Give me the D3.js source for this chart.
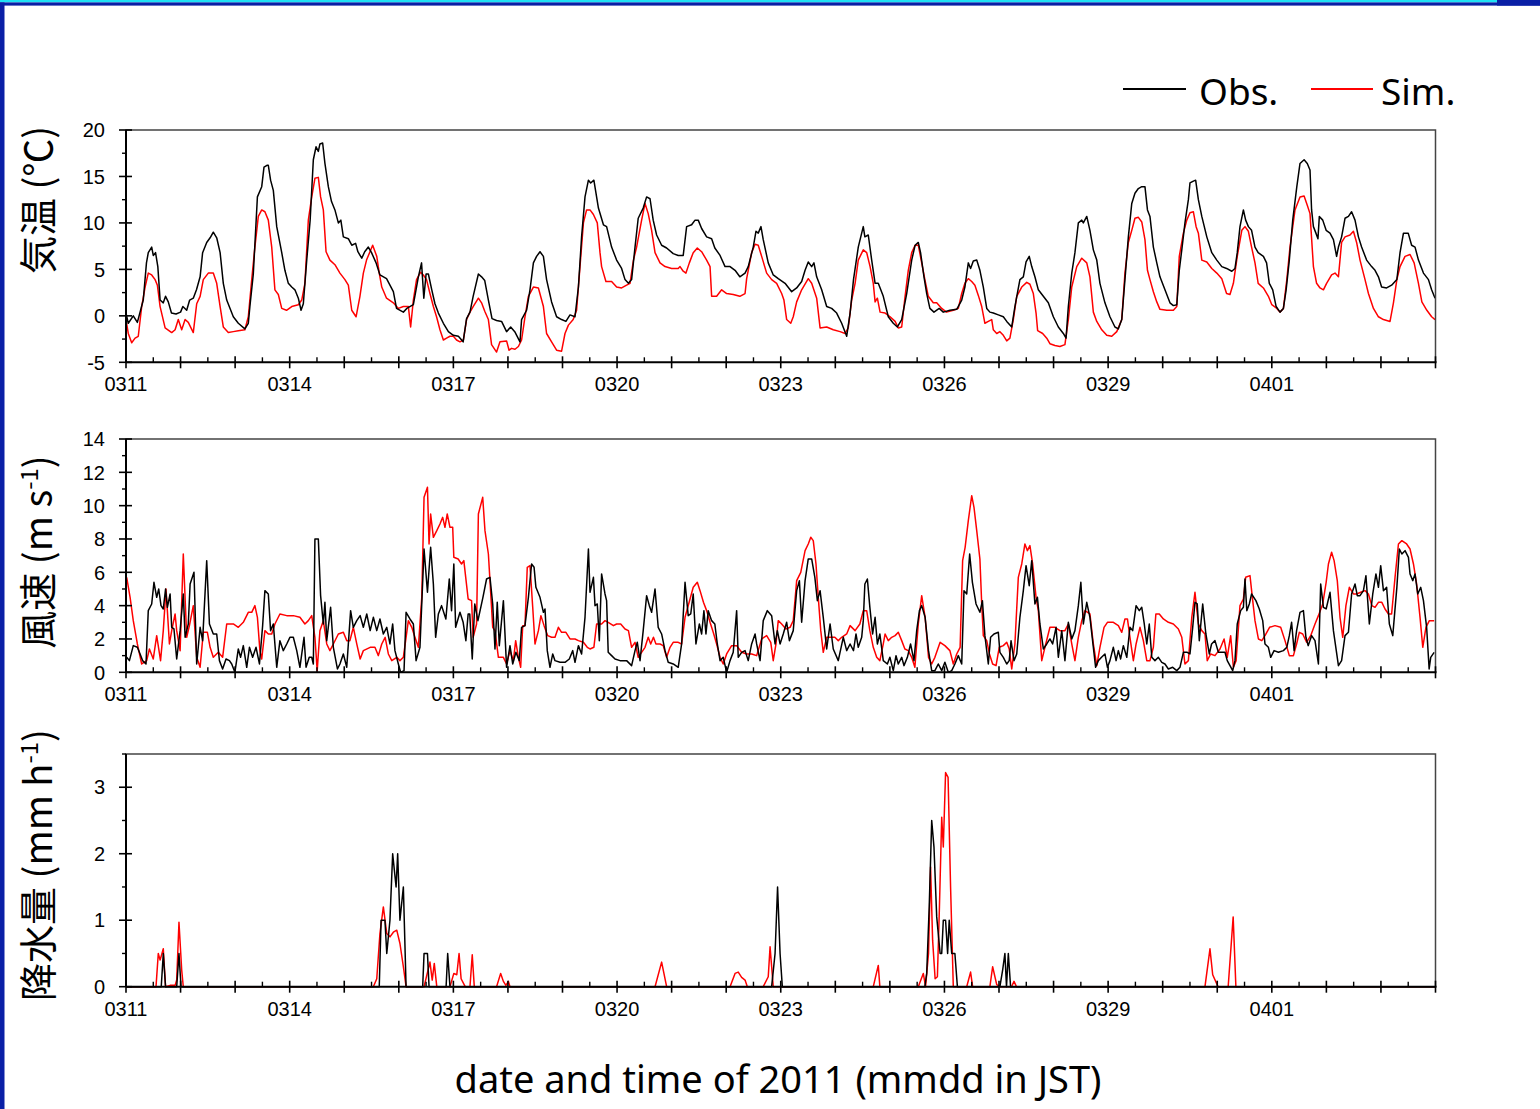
<!DOCTYPE html>
<html>
<head>
<meta charset="utf-8">
<script src="https://cdn.jsdelivr.net/npm/d3@7"></script>
<style>
  html, body { margin: 0; padding: 0; background: #fff; }
  svg { display: block; }
</style>
</head>
<body>
<svg id="chart" width="1540" height="1109"></svg>
<script>
// ---- Data: [hours since 2011-03-11 00:00 JST, value] ----
const tempObs = [[0,0.3],[1,-0.8],[3.2,0],[5,-0.7],[7.6,1.7],[9,5.7],[9.8,6.8],[11.3,7.4],[12,6.5],[13,6.8],[14,5.3],[15,1.7],[16.4,1.4],[17.4,2.1],[18.6,1.5],[20,0.3],[22,0.2],[24,0.4],[25,1],[26.7,0.6],[28,1.7],[29.6,1.9],[31,2.8],[32.6,4.2],[33.7,6.8],[35.5,7.9],[37,8.4],[38.4,9.0],[39.9,8.4],[41.4,6.8],[42.8,3.5],[44.3,1.7],[47.2,-0.1],[49.4,-0.8],[52.3,-1.4],[53.8,-0.8],[54.5,1.0],[56,4.5],[57.8,12.8],[59.7,13.9],[60.7,16],[62,16.2],[62.6,16.2],[63.6,14.6],[64.8,13.5],[66.3,9.6],[68.5,6.8],[69.9,4.9],[71.4,3.5],[72.9,3.1],[74.3,2.8],[75.8,1.9],[77,0.6],[78,1.3],[79.5,6.0],[81,10.3],[82.4,16.8],[83.6,18.2],[84.6,17.7],[85.3,18.5],[86.5,18.6],[87.5,16.4],[89,13.9],[90.4,12.3],[91.9,11.4],[93.4,10],[94.5,10.3],[95.6,8.5],[97.8,8.3],[99.3,7.6],[101,7.8],[102,6.9],[103.7,6.2],[105,6.9],[106.6,7.4],[108,6.8],[110,5.7],[111.7,4.4],[114.6,4.0],[117.6,2.6],[119,0.8],[122,0.4],[123.5,0.8],[126.4,1.2],[128.6,4.2],[130,5.7],[131,1.9],[132,4.5],[133,4.5],[134.5,2.8],[135.9,1.3],[137.4,0.3],[139.6,-0.8],[141.8,-1.7],[144,-2.1],[146.2,-2.2],[148.3,-2.8],[149.8,-0.3],[151.3,0.4],[152.7,2.1],[155,4.5],[156.4,4.2],[157.8,3.8],[159.4,1.7],[161,-0.3],[163,-0.5],[165.2,-0.6],[167.4,-1.7],[169.2,-1.2],[171,-1.7],[173.3,-2.8],[174,-0.4],[176.2,0.6],[177.7,2.8],[179.2,5.7],[180.6,6.4],[182.1,6.9],[183.6,6.4],[185,3.9],[187.2,1.5],[189.4,-0.1],[191.6,-0.4],[193.5,-0.6],[195.3,0.1],[197.5,-0.1],[199,3.1],[200.4,8.5],[201.9,12.8],[203.4,14.6],[204.4,14.3],[205.8,14.6],[207.8,11.6],[210,9.8],[211.4,9.6],[213.6,7.4],[215.8,6],[218,5.1],[219.5,3.9],[221,3.5],[222.4,3.9],[223.9,7.4],[225.3,10.5],[227.5,11.6],[229,12.8],[230.5,12.6],[231.9,10.3],[233.4,8.7],[235.6,7.6],[237.8,7.3],[240.7,6.7],[242.9,6.5],[245.1,6.5],[246.6,9.6],[248.8,9.8],[250.3,10.3],[251.7,10.3],[253.2,9.4],[255.4,8.5],[257.6,8.3],[259,7.3],[261.3,6.5],[263.5,5.3],[265.7,5.3],[267.9,4.9],[270,4.2],[272.3,4.6],[273.7,5.3],[275.9,7.4],[277.1,9.1],[278.1,8.9],[279.3,9.6],[280.3,8.2],[282.5,5.7],[284.7,4.4],[286.9,4.0],[289.9,3.5],[292.8,2.6],[295,3.0],[297.2,3.7],[298.7,4.9],[300.1,5.8],[301.6,5.3],[302.6,5.7],[303.8,4.2],[306,2.8],[308.2,1],[310.4,0.8],[312.6,0.3],[314.8,-0.8],[317,-2.2],[318.5,0.3],[320,3.9],[322.1,7.4],[323.6,8.9],[324.3,9.6],[325,8.5],[326.5,8.7],[328,6.0],[329.5,3.5],[330.9,3.5],[333.1,2.1],[335.3,-0.1],[337.5,-0.8],[339.3,-1.2],[341.2,-0.4],[343.4,2.4],[345.6,6],[347.1,7.6],[348.5,7.9],[349.5,6.8],[351,4.2],[352.2,2.4],[353.6,0.8],[355.4,0.4],[357.7,0.8],[359.5,0.4],[362.4,0.6],[365.4,0.7],[367.6,1.7],[369,3.1],[370.5,5.7],[371.5,5.1],[372.7,5.9],[374.2,6.0],[375.6,4.9],[377.1,3.1],[378.6,0.8],[380,0.4],[381.5,0.3],[383.7,0.1],[385.9,-0.1],[387.4,-0.6],[389.6,-1.2],[391,1.0],[393.2,3.9],[394.7,4.2],[395.9,5.8],[397.3,6.4],[398.4,5.3],[399.8,4.2],[401.3,2.8],[403.5,2.1],[405.7,1.4],[407.9,-0.1],[410.1,-1.2],[412.3,-1.9],[413.5,-2.4],[414.5,1.0],[416,4.6],[417.4,6.8],[418.9,10],[420.4,10.3],[421.1,10],[422.6,10.7],[424,9.2],[425.5,7.1],[427,6.0],[428.4,3.5],[430.6,1.4],[432.8,-0.1],[435,-1.2],[436.5,-1.4],[438,-0.4],[439.4,3.9],[440.9,8.5],[442.4,12.1],[443.8,13.2],[445.3,13.7],[446.8,13.9],[448.2,13.9],[449.3,11.4],[450.4,10.7],[451.9,7.4],[453.4,5.7],[454.8,4.2],[457,2.8],[459.2,1.4],[460.7,1.1],[462.2,1.2],[463.3,4.9],[464.4,7.1],[465.8,10],[467.3,12.5],[468,14.3],[469.5,14.5],[470.5,14.6],[471.7,12.5],[473.2,10.7],[475.4,8.5],[477.6,6.8],[479.8,6.0],[482,5.3],[484.1,5.1],[486.4,4.8],[487.8,5.1],[488.8,6.8],[490,9.6],[491.5,11.4],[492.5,10.3],[493.7,9.6],[495.1,9.2],[496.6,7.4],[498,6.8],[500.3,6.4],[501.7,5.7],[502.9,3.5],[504.4,2.8],[505.9,1.0],[507.6,0.4],[509.1,0.8],[510.3,2.8],[511.7,6],[513.2,10.3],[515,13.9],[516.4,16.4],[518.2,16.8],[519.6,16.4],[520.8,15.7],[521.5,11.4],[522.3,9.6],[523.4,8.9],[524.3,8.3],[524.9,10.7],[526.4,10.3],[527.9,9.2],[529.6,8.9],[531.1,8.2],[532.5,6.4],[533.3,7.4],[534.7,8.5],[536.2,10.5],[537.7,10.7],[539.1,11.2],[540.6,10.3],[542.1,8.5],[543.5,7.4],[545.7,6.0],[547.9,5.3],[549.4,4.9],[550.9,4.2],[552.3,3.1],[554.5,3.0],[556.7,3.3],[559,3.9],[560.4,6.8],[561.9,8.9],[564,8.9],[565.5,7.6],[567,7.4],[568.5,6.0],[570.7,4.6],[572.9,3.9],[574.3,2.8],[575.8,1.9]];

const tempSim = [[0,-0.4],[1,-1.9],[2.5,-2.9],[4,-2.4],[5.4,-2.2],[6.9,1.0],[8.4,3.1],[9.8,4.6],[11.3,4.4],[12.8,3.9],[13.8,3.3],[15,1.0],[17.2,-1.3],[20.1,-1.8],[21.6,-1.5],[23,-0.4],[24.5,-1.5],[26,-0.4],[27.4,-0.7],[29.6,-1.8],[31.1,1.3],[32.6,2.1],[34,3.9],[36.2,4.6],[38.4,4.6],[39.9,3.5],[41.4,1.0],[42.8,-1.2],[45,-1.8],[47.2,-1.7],[49.4,-1.6],[52.3,-1.5],[53.8,-0.1],[55.3,3.9],[56.7,7.4],[58.2,10.7],[59.7,11.4],[61.1,11.2],[62.6,10.3],[64.1,7.4],[65.5,2.8],[67,2.3],[68.5,0.8],[70.6,0.6],[72.9,1.0],[75.8,1.2],[77.3,1.7],[78.7,3.5],[80.2,10.3],[81.7,12.8],[83.1,14.8],[84.6,14.9],[85.6,12.8],[86.8,11.4],[88,6.9],[89.7,6.0],[91.9,5.5],[94.1,4.6],[96.3,3.9],[97.8,3.3],[99.3,0.6],[101.2,-0.1],[102.9,2.1],[104.4,4.6],[105.8,6.0],[108.5,7.6],[110.3,6.4],[111.4,4.6],[112.5,3.1],[114.6,1.9],[117.6,1.4],[119.8,0.8],[122,1.0],[124.2,1.0],[125.2,-1.2],[126.4,1.7],[127.8,3.9],[129.6,4.7],[130.8,4.4],[132.2,3.9],[133.7,2.4],[135.2,1.0],[136.6,-0.1],[138.1,-1.5],[139.6,-2.6],[141,-2.4],[142.5,-2.2],[144,-2.2],[145.4,-2.6],[146.9,-2.8],[148.4,-2.6],[149.8,-0.4],[151.3,0.4],[152.7,1.0],[155,1.9],[156.4,1.4],[157.8,0.5],[159.4,-0.4],[160.8,-3.1],[163,-3.9],[164.5,-2.8],[167.4,-2.7],[168.5,-3.7],[169.6,-3.5],[171.1,-3.6],[172.6,-3.3],[174,-2.6],[175.5,-0.1],[177,2.1],[179.2,3.1],[181.4,3.0],[183.6,1.0],[185,-1.9],[187.2,-2.8],[189.4,-3.7],[191.6,-3.8],[193.1,-1.9],[194.6,-1.0],[196.7,-0.4],[198.2,0.6],[199.7,5.3],[201.2,10],[202.6,11.4],[204.1,11.4],[205.6,10.9],[207.3,10],[208.5,6.8],[209.2,5.3],[211.1,3.7],[213.6,3.7],[215.8,3.1],[218,3.0],[220.2,3.3],[221.7,3.5],[223.2,6.0],[224.6,7.4],[226.8,10.3],[228.3,12.1],[229.7,11],[231.2,9.2],[232.7,6.8],[234.9,5.7],[237.1,5.3],[240,5.1],[242.9,5.1],[243.7,5.3],[245.1,4.8],[246.3,4.6],[247.8,5.7],[249.5,6.8],[251.3,7.3],[253.2,6.9],[255.4,6.0],[256.9,5.3],[257.6,2.1],[259.8,2.1],[262,2.8],[264.2,2.4],[267.1,2.3],[270,2.1],[272.3,2.4],[273,4.0],[275.2,6.8],[276.7,7.7],[278.1,7.6],[279.6,6.4],[281.8,4.6],[284,3.9],[286.2,3.5],[288.4,2.4],[289.4,1.7],[290.6,-0.4],[292.4,-0.8],[293.5,-0.1],[295,1.5],[297.2,2.8],[300.1,4.0],[301.6,3.5],[303.8,1.9],[305.3,-1.3],[308.2,-1.2],[311.1,-1.5],[314.1,-1.7],[316.3,-1.9],[317.7,-1.3],[319.2,1.7],[320.7,3.5],[322.1,6.0],[324.3,7.1],[325.8,6.8],[327.3,5.3],[328.7,3.5],[329.5,1.5],[330.5,1.9],[331.7,0.4],[333.9,0.3],[336.1,-0.1],[338.3,-0.6],[339.7,-1.3],[341.2,-1.2],[342.6,1.9],[344.1,4.9],[345.6,6.8],[347.1,7.6],[348.5,7.6],[350,5.7],[351.4,3.9],[352.9,2.1],[355.1,1.4],[356.6,1.4],[358.8,0.8],[360.9,0.4],[363.9,0.6],[366.1,0.8],[367.6,2.4],[369,3.5],[370.5,4.0],[372,3.7],[373.4,3.3],[374.9,2.2],[376.4,1.0],[377.8,-0.8],[379.3,-0.6],[380.8,-0.4],[381.5,-1.5],[383,-1.9],[384.4,-1.7],[385.9,-2.1],[387.4,-2.7],[388.8,-2.4],[390.3,-0.4],[391.8,2.1],[394,3.1],[396.2,3.6],[397.6,3.4],[399.1,2.4],[400.3,0.3],[401,-1.6],[403.2,-1.9],[405,-2.4],[406.4,-3.0],[408.6,-3.2],[410.8,-3.3],[413,-3.1],[414.5,-0.4],[416,3.1],[418.2,5.3],[420.4,6.2],[422.6,5.7],[424,4.2],[425.5,0.4],[427,-0.6],[429.2,-1.5],[431.4,-2.1],[433.6,-2.2],[435.8,-1.7],[438,-0.4],[439.4,4.6],[440.9,7.9],[442.4,9.2],[443.8,10.5],[445.3,10.6],[446.8,10.1],[448.2,8.2],[449.3,4.9],[450.4,3.9],[451.9,2.6],[453.4,1.5],[454.8,0.7],[457.8,0.6],[460.7,0.6],[462.2,1.0],[463.3,6.4],[465.1,8.9],[466.6,10.3],[468,11.1],[469.5,11.2],[470.7,9.6],[471.7,8.9],[473.2,6.0],[475.4,5.8],[477.6,5.1],[479.8,4.6],[482,4.0],[484.1,2.4],[485.6,2.3],[487.1,3.5],[488.8,6.4],[490.8,9.2],[492.2,9.6],[493.7,9.1],[495.1,7.4],[496.6,5.7],[498,3.5],[500.3,3.0],[502.5,2.1],[504,1.2],[506.2,0.8],[507.6,0.4],[509.1,0.8],[510.6,3.9],[512,7.4],[514.2,11.4],[516.4,12.8],[518.2,12.9],[519.6,11.9],[520.8,11.0],[522.3,5.3],[523.7,3.5],[525.2,3.0],[526.7,2.8],[528.1,3.5],[530.3,4.4],[531.8,4.6],[533.3,4.2],[534.7,7.9],[536.2,8.5],[538.4,8.7],[539.9,9.1],[541.3,7.9],[542.8,6.0],[545,3.9],[546.5,2.4],[548.7,0.8],[550.9,-0.1],[553.1,-0.4],[556,-0.6],[557.5,1.4],[559,3.9],[560.4,5.3],[562.6,6.4],[564.8,6.6],[566.6,5.7],[568.5,3.5],[570,1.5],[572.2,0.6],[574.3,-0.1],[575.8,-0.4]];

const windObs = [[0.3,0.9],[1.5,0.7],[3.2,1.6],[5,1.5],[6.2,1.1],[7.3,0.7],[8.8,0.5],[9.8,3.7],[11.3,4.1],[12.3,5.4],[13.5,4.5],[14.4,5.0],[15.4,4.0],[16.4,3.8],[17.4,5.0],[18.2,3.9],[19.4,4.7],[20.1,2.7],[21.1,2.6],[22.3,0.8],[23.8,2.5],[25.2,4.7],[26,2.1],[27.4,2.9],[28.2,5.3],[29.9,6.0],[31.1,0.5],[32.6,2.7],[33.7,1.9],[35.5,6.7],[36.7,2.9],[38.4,2.3],[39.9,2.3],[41.1,0.7],[42.5,0.2],[44,0.8],[45.5,0.7],[46.5,0.5],[47.9,0],[49.4,1.4],[50.4,0.9],[51.6,1.6],[53.1,0.3],[54.3,1.5],[55.7,0.9],[57.2,1.5],[58.7,0.5],[60.1,2.8],[61.1,4.9],[62.6,4.7],[63.6,2.5],[64.8,2.9],[66.3,0.3],[67.7,1.9],[69.2,1.3],[70.7,1.7],[72.1,2.1],[73.6,2.1],[75.1,1.3],[76.5,0.3],[78.3,2.1],[79.2,0.3],[80.6,0.9],[81.7,0.9],[82.4,0.5],[83.1,8.0],[84.6,8.0],[85.6,4.6],[86.8,2.9],[87.5,4.2],[88.3,1.9],[90,3.9],[91.2,1.5],[93,0.2],[94.1,0.5],[95.6,1.1],[97.1,0.3],[98.8,3.7],[100,2.7],[101.5,3.1],[103,3.4],[104.4,2.7],[105.9,3.5],[107.4,2.5],[108.8,3.3],[110.3,2.5],[111.7,3.2],[113.2,2.3],[114.7,2.7],[116.1,1.7],[117.3,2.9],[118.3,1.3],[119.8,0.5],[120.8,0],[122.3,0.1],[123.2,3.6],[124.9,3.2],[126.4,2.9],[127.6,0.7],[129.3,1.5],[131.1,7.4],[132.6,4.8],[134,7.5],[135.2,5.3],[136.2,2.1],[137.4,3.5],[138.8,4.0],[140.7,3.2],[142.2,5.6],[143.2,3.7],[144.2,6.5],[145,2.7],[146.9,3.6],[148.3,3.0],[149.5,1.9],[150.5,3.5],[151.2,3.5],[152.3,0.8],[153.4,4.1],[154.8,3.1],[157,4.5],[158.6,5.6],[160.1,5.7],[161.3,4.1],[162.3,1.4],[163.3,4.2],[164.2,1.6],[166,4.3],[167.4,0.3],[168.9,1.6],[170.1,0.5],[171.5,1.2],[173,0.7],[174,2.7],[175.5,2.8],[177,4.5],[178.4,6.5],[179.5,6.3],[180.3,5.1],[182.1,4.5],[183.6,3.6],[184.3,3.8],[185.3,1.3],[186.5,0.3],[187.7,1.1],[188.7,0.7],[190.9,0.6],[193.1,0.6],[195,0.8],[196.5,1.3],[197.5,0.6],[199,1.6],[200.4,1.1],[201.9,3.3],[203.4,7.4],[204.1,4.8],[205.6,5.7],[206.3,4.0],[207.3,4.1],[208.2,1.9],[209.2,5.9],[210.7,4.7],[211.4,4.3],[212.1,1.2],[213.6,1.0],[215.1,0.8],[217.3,0.7],[220.2,0.7],[222.4,0.4],[223.9,1.3],[224.9,1.8],[226.1,0.7],[227.5,2.5],[229,4.6],[230.2,4.0],[231.2,3.6],[232.7,5.0],[234.1,2.7],[235.6,2.3],[237.1,1.3],[238.5,0.6],[240.7,0.5],[242.9,0.3],[244.4,1.7],[245.9,5.4],[247.3,3.4],[248.4,3.5],[249.5,4.7],[250.7,1.7],[252.2,2.9],[253.2,2.3],[254.2,3.7],[255.1,2.3],[256.1,3.7],[257.6,3.1],[259,2.9],[260.1,1.7],[261.3,0.7],[262.7,0.9],[264.2,0.0],[265.7,0.7],[267.1,1.2],[268.6,3.7],[269.3,0.9],[270.8,1.2],[272.3,1.3],[273.7,0.7],[275.2,1.7],[276.7,2.3],[277.4,1.7],[278.9,0.7],[280.3,3.1],[282.1,3.7],[284,3.4],[285.5,1.7],[286.5,2.5],[287.7,1.7],[289.1,2.3],[290.6,3.0],[291.8,1.9],[293.5,2.5],[295,4.9],[296.2,5.5],[297.2,3.0],[298.7,5.5],[300.1,6.8],[301.6,6.8],[303,5.7],[304.1,4.3],[305.3,4.9],[306.7,3.3],[308.2,1.4],[309.7,2.9],[311.1,1.4],[313.3,0.7],[315.5,2.1],[317,1.3],[318.5,1.7],[320,1.3],[321.1,2.3],[322.1,1.5],[323.6,2.1],[324.3,3.1],[325,5.3],[326.1,5.6],[327.2,3.9],[328.4,2.3],[329.5,3.3],[330.5,1.7],[331.6,2.3],[333.1,0.7],[334.9,0.5],[336,0.9],[337.5,0.1],[338.7,1.0],[339.7,0.5],[341.2,0.9],[342.2,0.4],[343.7,0.9],[345.1,1.7],[346.6,0.7],[347.8,2.5],[349,3.7],[350,4.0],[351.5,3.3],[353,1.3],[354.4,0.1],[355.8,0.1],[357.3,0.5],[358.8,0.1],[360.2,0.6],[361.7,0],[363.2,0.1],[364.6,0.5],[366.1,1.0],[367.6,0.5],[368.6,4.9],[369.8,4.7],[371.1,7.1],[372.3,5.4],[373.9,4.1],[375.6,3.6],[376.7,4.3],[377.8,2.2],[379.3,0.5],[380.3,2.1],[381.8,2.3],[383.7,2.4],[384.4,1.2],[385.9,0.9],[387.4,0.5],[388.5,0.7],[389.3,1.9],[390.6,0.7],[391.8,1.1],[393.2,3.3],[394.7,4.9],[395.9,6.4],[397.3,5.2],[398.4,6.7],[399.8,4.1],[400.9,4.5],[402,2.9],[403.5,1.4],[405,1.7],[406.4,2.0],[407.6,1.7],[409.1,2.7],[410.1,0.9],[411.6,2.5],[413,0.7],[414.5,3.0],[416,2.0],[417.4,2.5],[418.9,4.0],[420,5.4],[421.1,2.9],[422.6,4.2],[424,3.3],[425.5,1.5],[426.5,0.3],[427.7,0.7],[429.1,0.9],[430.6,1.1],[431.7,0.3],[432.8,0.7],[434.3,1.5],[435.5,0.7],[436.5,1.3],[437.5,0.8],[438.7,1.6],[440.2,0.9],[441.6,2.7],[442.8,2.5],[444.3,4.0],[445.7,3.7],[446.8,3.9],[447.9,2.9],[449,1.7],[450.1,2.9],[451.2,0.9],[452.6,0.7],[454.1,0.9],[455.6,0.6],[457,0.5],[458.5,0.2],[460.4,0.3],[462.2,0.1],[463.6,0.3],[465.1,1.2],[466.8,1.2],[468,1.1],[469.2,2.7],[470.2,4.2],[471.2,4.1],[472.1,1.9],[473.6,4.1],[475,2.3],[476.5,1.1],[477.5,1.7],[479,1.9],[480.5,1.2],[481.9,1.2],[483.4,1.2],[484.4,0.7],[485.6,0.4],[486.8,0.1],[487.8,0.7],[488.8,2.9],[490.3,3.7],[491.5,3.9],[492.2,5.6],[493,3.7],[494.1,4.1],[495.1,4.7],[497,4.3],[498.5,3.8],[500,3.1],[501,1.7],[502.5,1.5],[503.5,0.9],[505,1.3],[506.9,1.2],[509.1,1.3],[510.6,1.5],[511.7,2.2],[512.7,3.0],[513.8,1.3],[514.9,2.5],[516.4,3.6],[517.9,3.7],[519,2.1],[520,1.6],[521.5,2.2],[523,1.9],[524.5,0.5],[525.5,5.3],[526.7,3.9],[527.9,3.8],[529.6,4.8],[531.1,2.5],[533.3,0.4],[534.7,0.7],[536.2,2.2],[537.7,2.4],[539.1,4.7],[540.6,5.3],[541.6,4.6],[542.8,4.6],[544.3,4.9],[545.4,5.8],[546.9,2.9],[548.4,4.7],[549.8,5.9],[550.9,5.1],[551.9,6.4],[553.1,4.9],[554.5,5.1],[555.7,2.9],[557.2,2.2],[559,5.1],[560.1,7.4],[561.2,7.1],[562.6,7.3],[564.1,6.9],[564.8,5.9],[566,5.5],[567,5.9],[568.2,4.7],[569.5,5.1],[570.7,4.3],[572.1,2.7],[573.2,0.2],[573.9,0.9],[575.4,1.2]];

const windSim = [[0.3,5.7],[1.8,4.5],[3.2,3.1],[5,1.7],[6.9,0.5],[9.1,0.7],[10.3,1.4],[12,0.8],[13.5,2.2],[15.2,0.7],[16.4,2.5],[17.6,5.0],[19.1,1.7],[20.1,2.5],[21.6,3.5],[22.3,2.5],[23.8,1.3],[25.2,7.1],[26.7,2.1],[27.9,2.8],[29.6,4.0],[31.1,0.9],[32.6,0.3],[34,2.4],[35.8,2.4],[37,1.5],[38.4,0.9],[40.6,1.2],[42.5,0.9],[44.3,2.9],[47.2,2.9],[49.4,2.7],[51.6,3.0],[53.8,3.6],[55.3,3.6],[56.7,4.0],[57.8,3.3],[58.9,1.3],[59.7,0.8],[61.1,2.5],[62.6,2.3],[64.1,2.3],[65.5,2.9],[67.7,3.5],[70.7,3.4],[73.6,3.4],[76.5,3.3],[78.7,2.9],[80.2,3.1],[81.7,3.4],[83.1,2.1],[84.1,0.1],[85.3,2.5],[86.8,3.1],[88.3,1.7],[89.7,1.3],[91.2,1.7],[93.4,2.3],[95.6,2.4],[97.1,1.9],[98.5,1.9],[100,2.7],[101.5,1.7],[103,0.8],[104.4,1.3],[107.4,1.5],[109.5,1.5],[111,1.0],[112.5,1.7],[114,2.1],[115.4,1.1],[116.9,0.7],[119.1,0.9],[120.5,0.7],[122,0.9],[124.2,3.1],[125.7,2.7],[127.1,2.1],[128.6,1.5],[130.1,4.5],[131.1,10.5],[132.6,11.1],[133.3,7.7],[134,9.5],[135.2,8.1],[136.7,8.5],[138.1,8.9],[139.3,9.3],[140.3,8.7],[141.3,9.5],[142.5,8.7],[143.7,8.7],[144.2,6.9],[146.1,6.8],[147.6,6.5],[148.6,6.7],[150.5,4.4],[152,4.3],[152.7,2.1],[154.2,2.9],[155,9.5],[156.9,10.5],[157.9,8.5],[159.4,7.1],[160.1,5.5],[161.3,2.7],[162.3,2.5],[163.8,0.9],[166,0.9],[167.4,0.5],[168.9,1.3],[170.4,0.7],[171.4,1.9],[172.6,0.9],[173.6,0.3],[174.5,2.8],[175.5,2.8],[176.5,6.3],[177.7,6.4],[178.9,3.9],[179.9,1.7],[181.4,2.5],[182.5,3.4],[183.9,2.8],[185.5,2.2],[187.2,2.1],[188.7,2.1],[190.2,2.7],[191.6,2.4],[193.5,2.4],[195.3,2.0],[197.5,2.0],[199,1.9],[201.2,1.8],[202.9,1.5],[204.1,1.4],[205.8,1.5],[207,2.9],[209.2,2.9],[210.7,3.1],[212.1,3.0],[214.4,2.8],[215.8,2.9],[217.6,2.9],[219.5,2.6],[221,2.5],[222.4,1.5],[223.9,1.8],[225.3,0.9],[226.8,1.2],[228.3,1.5],[229.7,2.1],[230.8,1.7],[232,2.1],[233.1,1.7],[234.9,1.7],[236.3,1.6],[237.8,0.9],[239.3,1.5],[240.7,1.8],[242.9,1.8],[244.4,1.7],[245.9,3.3],[248.1,4.4],[249.5,5.1],[251.3,5.4],[252.5,4.9],[254,4.2],[255.4,3.7],[256.9,3.0],[258.3,2.4],[259.8,1.7],[261.3,0.9],[262.7,0.5],[264.2,1.1],[266.4,1.6],[268.6,1.6],[270.8,1.2],[273,1.1],[275.2,1.1],[277.4,1.0],[279.6,2.0],[281.8,2.2],[283.6,1.8],[284.7,0.7],[285.9,1.7],[286.9,3.1],[288.4,2.9],[290.3,2.6],[292.1,2.7],[293.5,3.1],[295,5.5],[296.8,6.0],[298.7,7.3],[300.1,7.7],[301.2,8.1],[302.3,7.9],[303.5,6.5],[304.5,4.5],[305.6,2.5],[306.7,1.2],[308.2,2.1],[309.7,2.1],[311.8,2.1],[313.3,1.9],[314.8,2.1],[317,2.3],[318.5,2.8],[320.7,2.5],[322.8,2.9],[324.3,3.7],[325.8,3.7],[327.2,2.5],[328.7,1.5],[330.2,0.9],[331.6,0.7],[333.1,1.7],[333.9,2.3],[335.3,1.9],[336.8,2.1],[338.3,2.2],[339.7,2.4],[341.2,1.9],[342.6,1.4],[344.1,1.3],[345.6,0.9],[347,0.3],[348.5,2.9],[350,4.6],[351.5,3.3],[353,0.9],[354.4,0.5],[355.8,0.9],[358.1,1.8],[360.2,1.6],[362.4,1.3],[363.9,0.5],[365.4,1.1],[366.9,1.5],[368,6.7],[369.1,7.5],[370.5,9.1],[372,10.6],[373,9.9],[374.2,8.5],[375.6,6.8],[376.4,4.1],[377.1,2.2],[378.6,1.9],[379.8,1.1],[381.2,0.5],[382.7,0.4],[384.1,1.5],[385.9,1.6],[387.4,1.8],[388.5,1.4],[389.6,0.2],[391,1.7],[392.5,5.7],[394,6.5],[395.4,7.7],[396.5,7.3],[397.6,7.6],[398.8,6.5],[400.3,4.5],[401.3,3.7],[402.8,0.7],[404.2,1.5],[406.4,2.7],[408.6,2.7],[410.8,2.5],[413,2.5],[414.5,2.9],[416,1.7],[417.4,0.7],[418.9,2.1],[420.4,3.1],[421.8,3.7],[424,3.5],[425.5,1.7],[427,0.4],[428.4,1.5],[430.2,2.7],[431.7,3.0],[434.3,3.0],[436.5,2.8],[438,2.4],[439.4,3.2],[440.5,3.2],[441.6,2.1],[443.1,0.7],[444.3,1.7],[446,2.7],[447.5,1.9],[449,0.7],[450.4,0.7],[451.9,1.5],[453,3.5],[454.5,3.5],[456.3,3.2],[458.5,3.0],[460.7,2.9],[462.9,2.6],[464.4,2.1],[465.8,0.5],[467.3,0.7],[468.8,3.3],[470.2,4.8],[471.7,2.9],[473.2,2.5],[474.6,2.3],[475.6,0.7],[477.1,1.1],[479,1.0],[481.2,1.4],[483,2.0],[484.4,0.9],[485.9,2.2],[487.1,0.3],[488.3,0.7],[490,4.0],[491.5,4.4],[492.5,5.7],[494.4,5.8],[495.6,4.3],[496.6,3.1],[498.1,2.0],[499.6,1.9],[501,2.2],[503,2.7],[505.4,2.8],[507.9,2.7],[509.8,1.9],[511.7,1.0],[513.5,1.0],[514.9,1.7],[516.1,2.4],[517.6,2.3],[519.3,1.8],[521.1,2.2],[523,2.9],[524.5,3.4],[526.4,4.1],[527.9,5.4],[528.9,6.5],[530.3,7.2],[531.4,6.7],[532.8,5.5],[534,3.3],[535.2,2.1],[536.6,4.0],[538.1,5.1],[539.9,4.7],[541.3,4.7],[543.1,4.8],[545,4.9],[546.5,4.7],[548,4.0],[549.4,3.9],[550.9,4.2],[552.4,4.2],[553.8,3.8],[555.3,3.5],[556.7,3.5],[558.2,5.7],[559.7,7.7],[561.2,7.9],[563.3,7.7],[564.8,7.4],[566.3,6.5],[567.7,5.3],[569.2,3.3],[570.4,1.5],[571.8,2.7],[573.3,3.1],[575.4,3.1]];

const rainObs = [[0,0],[15.5,0],[16.4,0.5],[17.4,0],[22.3,0],[23.3,0.5],[24.2,0],[111.4,0],[112.2,1.0],[113.9,1.0],[114.7,0.5],[116.1,1.0],[117.3,2.0],[118.8,1.5],[119.5,2.0],[120.5,1.0],[122,1.5],[123.2,0],[130.5,0],[131.1,0.5],[132.6,0.5],[133.3,0],[140.8,0],[141.5,0.5],[142.5,0],[284,0],[285.5,0.5],[286.6,1.5],[287.7,0.5],[288.7,0],[351.4,0],[352.2,0.2],[353.3,1.2],[354.4,2.5],[355.4,2.1],[356.6,1.05],[358.1,0.5],[358.8,0.5],[359.5,1.0],[360.5,1.0],[361.4,0.5],[362.1,1.0],[363.2,0.5],[364.6,0.5],[365.7,0],[384.4,0],[385.6,0.25],[386.6,0.5],[387.3,0],[388.1,0.5],[389.1,0],[576,0]];

const rainSim = [[0,0],[13.2,0],[14.2,0.5],[15,0.4],[16.4,0.57],[17.4,0],[19.4,0.02],[21.6,0.02],[22.3,0.1],[23.3,0.97],[24.5,0.25],[25.2,0],[108.8,0],[110.3,0.12],[111.7,0.8],[113.2,1.2],[114.7,0.8],[116.1,0.75],[117.6,0.82],[119.1,0.85],[120.5,0.65],[122,0.3],[123.2,0],[131.1,0],[133.7,0.37],[134.7,0.1],[135.6,0.35],[136.7,0],[142.5,0],[144.2,0.2],[145.5,0.18],[146.5,0.5],[147.4,0.12],[149.2,0],[151.3,0],[152.3,0.48],[153.2,0],[163,0],[164.8,0.2],[166,0.08],[167.1,0.02],[168.2,0.08],[168.9,0],[232.7,0],[235.6,0.37],[237.8,0],[265.7,0],[267.9,0.2],[269.3,0.22],[270.8,0.14],[272.3,0.1],[273.3,0],[280.3,0],[282.5,0.15],[283.3,0.6],[284.7,0],[328.7,0],[330.9,0.32],[331.6,0],[348.5,0],[350.7,0.2],[351.7,0],[353,0.5],[353.9,1.8],[354.8,0.7],[355.9,0.12],[356.9,0.15],[357.8,1.2],[358.8,2.55],[359.5,2.1],[360.5,3.22],[361.6,3.15],[362.7,1.5],[363.9,0],[369.8,0],[371.5,0.22],[372.4,0],[380,0],[381.2,0.3],[383,0.03],[384.4,0],[389.5,0],[390.6,0.08],[391.7,0],[474.6,0],[476.8,0.57],[478,0.18],[479.7,0.05],[480.4,0],[484.8,0],[487,1.05],[488.2,0],[576,0]];

// ---- Axis labels ----
const dateLabels = ["0311","0314","0317","0320","0323","0326","0329","0401"];
const tempTicks = [-5, 0, 5, 10, 15, 20];
const windTicks = [0, 2, 4, 6, 8, 10, 12, 14];
const rainTicks = [0, 1, 2, 3];
const seriesNames = ["Obs.", "Sim."];
const seriesColors = ["#000000", "#ff0000"];

// ---- Layout ----
const svg = d3.select("#chart");
const start = new Date(Date.UTC(2011, 2, 11));
const end = new Date(Date.UTC(2011, 3, 4));
const at = h => new Date(start.getTime() + h * 3600e3);
const x = d3.scaleUtc().domain([start, end]).range([126, 1435.5]);
const parseLabel = d3.utcParse("%Y%m%d");
const tickFont = "'Liberation Sans', Arial, sans-serif";

// slide frame
svg.append("rect").attr("x", 0).attr("y", 0).attr("width", 1540).attr("height", 1109).attr("fill", "#fff");
svg.append("rect").attr("x", 0).attr("y", 0).attr("width", 1497).attr("height", 2.4).attr("fill", "#1fe2f4");
svg.append("rect").attr("x", 0).attr("y", 2.4).attr("width", 1540).attr("height", 3.2).attr("fill", "#0a1fa6");
svg.append("rect").attr("x", 1497).attr("y", 0).attr("width", 43).attr("height", 5.6).attr("fill", "#0a1fa6");
svg.append("rect").attr("x", 0).attr("y", 2.4).attr("width", 4.5).attr("height", 1107).attr("fill", "#0a1fa6");

const panels = [
  { top: 130, bottom: 362.3, domain: [-5, 20], ticks: tempTicks, minor: 2.5, obs: tempObs, sim: tempSim },
  { top: 439, bottom: 672.3, domain: [0, 14], ticks: windTicks, minor: 1, obs: windObs, sim: windSim },
  { top: 754, bottom: 986.7, domain: [0, 3.5], ticks: rainTicks, minor: 0.5, obs: rainObs, sim: rainSim }
];

const dayTicks = d3.utcDay.range(start, d3.utcDay.offset(end, 1));
const halfTicks = d3.utcHour.every(12).range(start, end).filter(d => d.getUTCHours() === 12);
const labelDates = dateLabels.map(s => parseLabel("2011" + s));

panels.forEach((p, i) => {
  const y = d3.scaleLinear().domain(p.domain).range([p.bottom, p.top]);
  const g = svg.append("g");
  const x0 = x.range()[0], x1 = x.range()[1];

  // clip to plot area
  const clipId = "clip" + i;
  svg.append("clipPath").attr("id", clipId)
    .append("rect").attr("x", x0).attr("y", p.top - 2).attr("width", x1 - x0).attr("height", p.bottom - p.top + 4);

  // series (simulation under observation)
  const line = d3.line().x(d => x(at(d[0]))).y(d => y(d[1]));
  const lg = g.append("g").attr("clip-path", `url(#${clipId})`);
  lg.append("path").datum(p.sim).attr("d", line)
    .attr("fill", "none").attr("stroke", seriesColors[1]).attr("stroke-width", 1.5).attr("stroke-linejoin", "round");
  lg.append("path").datum(p.obs).attr("d", line)
    .attr("fill", "none").attr("stroke", seriesColors[0]).attr("stroke-width", 1.5).attr("stroke-linejoin", "round");

  // frame
  g.append("path").attr("d", `M${x0},${p.bottom}V${p.top}H${x1}V${p.bottom}`)
    .attr("fill", "none").attr("stroke", "#444").attr("stroke-width", 1.5);
  g.append("line").attr("x1", x0).attr("x2", x0).attr("y1", p.top).attr("y2", p.bottom)
    .attr("stroke", "#000").attr("stroke-width", 2);
  g.append("line").attr("x1", x0).attr("x2", x1 + 1).attr("y1", p.bottom).attr("y2", p.bottom)
    .attr("stroke", "#000").attr("stroke-width", 2);

  // x ticks: daily across the axis, half-day inside
  g.selectAll(null).data(dayTicks).join("line")
    .attr("x1", d => x(d)).attr("x2", d => x(d))
    .attr("y1", p.bottom - 6).attr("y2", p.bottom + 6)
    .attr("stroke", "#000").attr("stroke-width", 1.6);
  g.selectAll(null).data(halfTicks).join("line")
    .attr("x1", d => x(d)).attr("x2", d => x(d))
    .attr("y1", p.bottom - 5).attr("y2", p.bottom)
    .attr("stroke", "#000").attr("stroke-width", 1.4);
  g.selectAll(null).data(labelDates).join("text")
    .attr("x", d => x(d)).attr("y", p.bottom + 29)
    .attr("text-anchor", "middle")
    .attr("font-family", tickFont).attr("font-size", 20)
    .attr("fill", "#000")
    .text((d, k) => dateLabels[k]);

  // y ticks
  const minorVals = d3.range(p.domain[0], p.domain[1] + 1e-9, p.minor).filter(v => !p.ticks.includes(v));
  g.selectAll(null).data(minorVals).join("line")
    .attr("x1", x0 - 4).attr("x2", x0).attr("y1", d => y(d)).attr("y2", d => y(d))
    .attr("stroke", "#000").attr("stroke-width", 1.4);
  g.selectAll(null).data(p.ticks).join("line")
    .attr("x1", x0 - 7).attr("x2", x0 + 6).attr("y1", d => y(d)).attr("y2", d => y(d))
    .attr("stroke", "#000").attr("stroke-width", 1.6);
  g.selectAll(null).data(p.ticks).join("text")
    .attr("x", x0 - 21).attr("y", d => y(d)).attr("dy", "0.36em")
    .attr("text-anchor", "end")
    .attr("font-family", tickFont).attr("font-size", 20)
    .attr("fill", "#000")
    .text(d => d);
});

// y-axis titles
const cjk = "'Noto Sans CJK JP', 'Noto Sans', sans-serif";
function yTitle(cx, cy, main, unit, sup) {
  const t = svg.append("text")
    .attr("transform", `translate(${cx},${cy}) rotate(-90)`)
    .attr("text-anchor", "middle").attr("dy", "0.36em")
    .attr("font-family", cjk).attr("font-size", 38).attr("fill", "#000");
  t.append("tspan").text(main + " (" + unit);
  if (sup) {
    t.append("tspan").attr("font-size", 24).attr("dy", -14).text(sup);
    t.append("tspan").attr("dy", 14).text(")");
  } else {
    t.append("tspan").text(")");
  }
}
yTitle(38, 200, "気温", "℃", null);
yTitle(38, 552, "風速", "m s", "-1");
yTitle(38, 865, "降水量", "mm h", "-1");

// x-axis title
svg.append("text")
  .attr("x", 778).attr("y", 1093)
  .attr("text-anchor", "middle")
  .attr("font-family", "'Noto Sans', sans-serif").attr("font-size", 38).attr("fill", "#000")
  .text("date and time of 2011 (mmdd in JST)");

// legend
const legend = [
  { x1: 1123, x2: 1186, tx: 1199 },
  { x1: 1311, x2: 1373, tx: 1381 }
];
legend.forEach((l, k) => {
  svg.append("line").attr("x1", l.x1).attr("x2", l.x2).attr("y1", 89).attr("y2", 89)
    .attr("stroke", seriesColors[k]).attr("stroke-width", 2);
  svg.append("text").attr("x", l.tx).attr("y", 105)
    .attr("font-family", "'Noto Sans', sans-serif").attr("font-size", 37).attr("fill", "#000")
    .text(seriesNames[k]);
});
</script>
</body>
</html>
